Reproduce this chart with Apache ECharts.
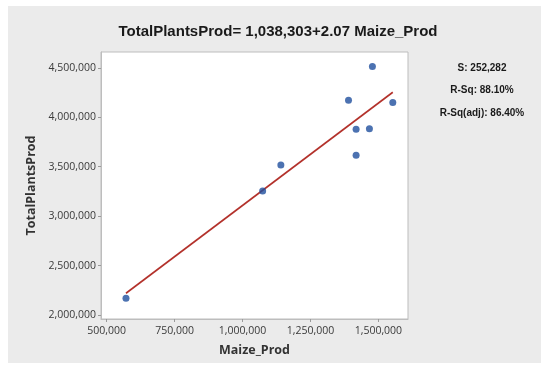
<!DOCTYPE html>
<html>
<head>
<meta charset="utf-8">
<script src="https://cdn.jsdelivr.net/npm/echarts@6/dist/echarts.min.js"></script>
<style>
  html, body { margin: 0; padding: 0; background: #ffffff; }
  #chart { width: 543px; height: 365px; }
</style>
</head>
<body>
<div id="chart"></div>
<script>
// Observed maize production vs. total plant production
const maizeProd = [571000, 1074000, 1141000, 1390000, 1418000, 1418000, 1467000, 1478000, 1553000];
const totalPlantsProd = [2171000, 3255000, 3517000, 4171000, 3878000, 3615000, 3884000, 4514000, 4150000];

// Fitted regression: TotalPlantsProd = intercept + slope * Maize_Prod
const intercept = 1038303;
const slope = 2.07;

// Axis tick positions
const xTicks = [500000, 750000, 1000000, 1250000, 1500000];
const yTicks = [2000000, 2500000, 3000000, 3500000, 4000000, 4500000];

// Summary statistics shown beside the plot
const statLines = ['S: 252,282', 'R-Sq: 88.10%', 'R-Sq(adj): 86.40%'];

const fmt = v => Number(v).toLocaleString('en-US');

const xMinData = Math.min(...maizeProd);
const xMaxData = Math.max(...maizeProd);
const fitLine = [
  [xMinData, intercept + slope * xMinData],
  [xMaxData, intercept + slope * xMaxData]
];

const chart = echarts.init(document.getElementById('chart'), null, { renderer: 'canvas' });

const axisFont = '"Open Sans", "Noto Sans", sans-serif';

chart.setOption({
  animation: false,
  backgroundColor: '#ffffff',
  graphic: [
    {
      type: 'rect', z: -10, silent: true,
      shape: { x: 8, y: 6, width: 533, height: 357 },
      style: { fill: '#ebebeb' }
    },
    ...statLines.map((t, i) => ({
      type: 'text', silent: true,
      x: 482, y: 68 + i * 22.5,
      style: {
        text: t, align: 'center', verticalAlign: 'middle',
        font: 'bold 10px "Liberation Sans", Arial, sans-serif',
        fill: '#1a1a1a'
      }
    }))
  ],
  title: {
    text: 'TotalPlantsProd= 1,038,303+2.07 Maize_Prod',
    left: 273, top: 19, textAlign: 'center',
    textStyle: {
      fontFamily: '"Liberation Sans", Arial, sans-serif',
      fontWeight: 'bold', fontSize: 15, color: '#1a1a1a'
    }
  },
  grid: {
    left: 101, top: 52, right: 135, bottom: 46,
    show: true, backgroundColor: '#ffffff', borderColor: '#bdbdbd', borderWidth: 1
  },
  xAxis: {
    type: 'value',
    min: 479000, max: 1609000,
    name: 'Maize_Prod', nameLocation: 'middle', nameGap: 25,
    nameTextStyle: { fontFamily: axisFont, fontWeight: 'bold', fontSize: 12.5, color: '#333' },
    axisLine: { show: true, onZero: false, lineStyle: { color: '#bdbdbd' } },
    axisTick: { show: true, length: 3, customValues: xTicks, lineStyle: { color: '#9a9a9a' } },
    axisLabel: {
      customValues: xTicks, formatter: fmt, margin: 7,
      fontFamily: axisFont, fontSize: 10.5, color: '#3a3a3a'
    },
    splitLine: { show: false }
  },
  yAxis: {
    type: 'value',
    min: 1960000, max: 4660000,
    name: 'TotalPlantsProd', nameLocation: 'middle', nameGap: 61, nameRotate: 90,
    nameTextStyle: { fontFamily: axisFont, fontWeight: 'bold', fontSize: 12.5, color: '#333' },
    axisLine: { show: true, onZero: false, lineStyle: { color: '#bdbdbd' } },
    axisTick: { show: true, length: 3, customValues: yTicks, lineStyle: { color: '#9a9a9a' } },
    axisLabel: {
      customValues: yTicks, formatter: fmt, margin: 5,
      fontFamily: axisFont, fontSize: 10.5, color: '#3a3a3a'
    },
    splitLine: { show: false }
  },
  series: [
    {
      type: 'line',
      data: fitLine,
      symbol: 'none',
      lineStyle: { color: '#b3312b', width: 1.6 },
      z: 2
    },
    {
      type: 'scatter',
      data: maizeProd.map((x, i) => [x, totalPlantsProd[i]]),
      symbol: 'circle',
      symbolSize: 7,
      itemStyle: { color: '#1f4f9e' },
      z: 3
    }
  ]
});
</script>
</body>
</html>
